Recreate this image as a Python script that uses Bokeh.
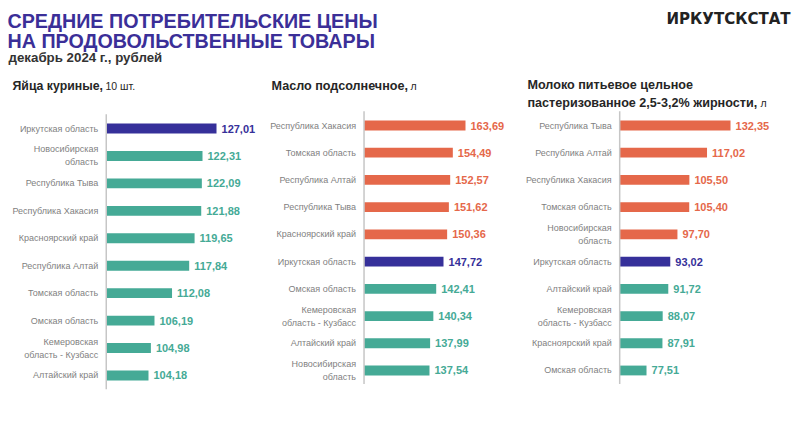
from bokeh.plotting import figure
from bokeh.models import Range1d, ColumnDataSource
from bokeh.core.properties import value
from bokeh.embed import file_html
from bokeh.resources import INLINE

# ---- data ----
eggs_regions = ["Иркутская область", "Новосибирская\nобласть", "Республика Тыва", "Республика Хакасия",
                "Красноярский край", "Республика Алтай", "Томская область", "Омская область",
                "Кемеровская\nобласть - Кузбасс", "Алтайский край"]
eggs_values = [127.01, 122.31, 122.09, 121.88, 119.65, 117.84, 112.08, 106.19, 104.98, 104.18]

oil_regions = ["Республика Хакасия", "Томская область", "Республика Алтай", "Республика Тыва",
               "Красноярский край", "Иркутская область", "Омская область",
               "Кемеровская\nобласть - Кузбасс", "Алтайский край", "Новосибирская\nобласть"]
oil_values = [163.69, 154.49, 152.57, 151.62, 150.36, 147.72, 142.41, 140.34, 137.99, 137.54]

milk_regions = ["Республика Тыва", "Республика Алтай", "Республика Хакасия", "Томская область",
                "Новосибирская\nобласть", "Иркутская область", "Алтайский край",
                "Кемеровская\nобласть - Кузбасс", "Красноярский край", "Омская область"]
milk_values = [132.35, 117.02, 105.50, 105.40, 97.70, 93.02, 91.72, 88.07, 87.91, 77.51]

HOME = "Иркутская область"

FONT = value("Liberation Sans")
TEAL = "#45aa96"
ORANGE = "#e5684a"
INDIGO = "#36309a"
TITLE_C = "#3b2f98"
GRAY = "#7f7f7f"
DARK = "#262626"

W, H = 792, 409
p = figure(width=W, height=H, x_range=Range1d(0, W), y_range=Range1d(10.433, -4.592),
           output_backend="svg", toolbar_location=None, x_axis_type=None, y_axis_type=None,
           min_border=0, outline_line_color=None)
p.grid.visible = False
p.background_fill_color = "white"

p.extra_x_ranges = {
    "eggs": Range1d(54.50, 320.36),
    "oil": Range1d(-174.07, 401.22),
    "milk": Range1d(-344.25, 172.82),
}
p.extra_y_ranges = {"eggs": Range1d(10.240, -4.665), "px": Range1d(H, 0)}


def panel(regions, values, base, xr, yr):
    home_v = values[regions.index(HOME)]
    colors = [INDIGO if r == HOME else (ORANGE if v > home_v else TEAL) for r, v in zip(regions, values)]
    src = ColumnDataSource(dict(
        y=list(range(len(regions))), v=values, r=regions, c=colors,
        lab=[f"{v:.2f}".replace(".", ",") for v in values],
        base=[base] * len(values)))
    kw = dict(x_range_name=xr)
    if yr:
        kw["y_range_name"] = yr
    p.hbar(y="y", left="base", right="v", height=0.36, color="c", source=src, line_color=None, **kw)
    p.segment(x0=[base], x1=[base], y0=[-0.52], y1=[len(values) - 0.5], line_color="#c6c6c6",
              line_width=1.5, **kw)
    p.text(x="base", y="y", text="r", x_offset=-8, text_align="right", text_baseline="middle",
           text_font=FONT, text_font_size="9px", text_color=GRAY, text_line_height=1.3,
           source=src, **kw)
    p.text(x="v", y="y", text="lab", x_offset=5, text_align="left", text_baseline="middle",
           text_font=FONT, text_font_size="11px", text_font_style="bold", text_color="c",
           source=src, **kw)


panel(eggs_regions, eggs_values, 90, "eggs", "eggs")
panel(oil_regions, oil_values, 90, "oil", None)
panel(milk_regions, milk_values, 60, "milk", None)


def lab(x, y, text, size, color, bold=True, align="left", font=FONT):
    p.text(x=[x], y=[y], text=[text], y_range_name="px", text_font=font, text_font_size=size,
           text_color=color, text_font_style="bold" if bold else "normal", text_align=align,
           text_baseline="alphabetic")


lab(7, 20, "СРЕДНИЕ ПОТРЕБИТЕЛЬСКИЕ ЦЕНЫ", "19.7px", TITLE_C)
lab(7, 40, "НА ПРОДОВОЛЬСТВЕННЫЕ ТОВАРЫ", "19.7px", TITLE_C)
lab(8, 57, "декабрь 2024 г., рублей", "13.3px", "#333333")
lab(790, 18, "ИРКУТСКСТАТ", "15px", "#222222", align="right", font=value("DejaVu Sans"))

lab(12, 85, "Яйца куриные,", "12.3px", DARK)
lab(105, 85, "10 шт.", "10.5px", DARK, bold=False)
lab(271, 85, "Масло подсолнечное,", "12.6px", DARK)
lab(410, 85, "л", "10.5px", DARK, bold=False)
lab(527, 84, "Молоко питьевое цельное", "12.6px", DARK)
lab(527, 102, "пастеризованное 2,5-3,2% жирности,", "12.6px", DARK)
lab(760, 102, "л", "10.5px", DARK, bold=False)

open("out.html", "w").write(file_html(p, INLINE))
